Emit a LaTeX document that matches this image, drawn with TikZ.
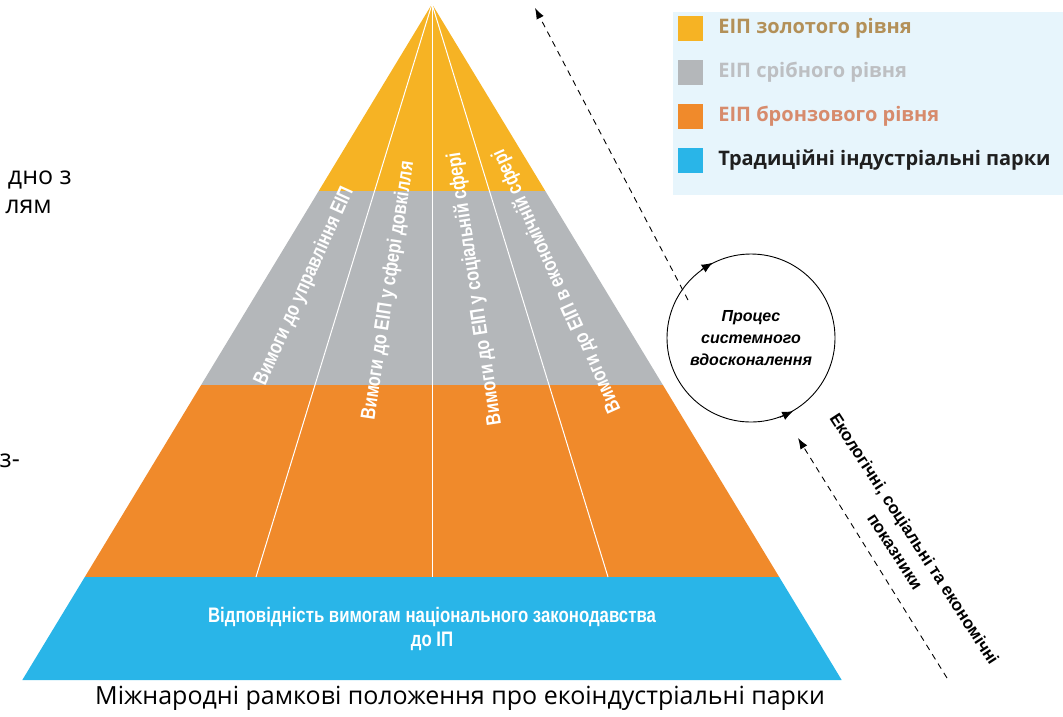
\documentclass[tikz,border=0pt]{standalone}
\usepackage{fontspec}
\setmainfont{Open Sans}
\newfontfamily\arialfont{Liberation Sans}
\newfontfamily\narrowfont[FakeStretch=0.8]{Liberation Sans}
\usetikzlibrary{arrows.meta,calc,positioning}

\definecolor{goldfill}{HTML}{F6B324}
\definecolor{silverfill}{HTML}{B4B7BA}
\definecolor{bronzefill}{HTML}{F08A2B}
\definecolor{parkfill}{HTML}{29B5E8}
\definecolor{legendbg}{HTML}{E7F5FC}
\definecolor{goldtext}{HTML}{B39058}
\definecolor{silvertext}{HTML}{BDBFC2}
\definecolor{bronzetext}{HTML}{D78B6C}

\begin{document}
\begin{tikzpicture}[x=1pt,y=-1pt,
    req/.style={text=white,font=\narrowfont\bfseries\fontsize{20.5}{24}\selectfont},
    legbox/.style={minimum size=25pt,inner sep=0pt},
    legtext/.style={anchor=west,inner sep=0pt,font=\bfseries\fontsize{20}{24}\selectfont},
    flow/.style={dashed,dash pattern=on 6pt off 5pt,line width=0.9pt,-{Latex[length=11pt,width=8pt]}},
    cyc/.style={-{Latex[length=11pt,width=9pt]},line width=0.9pt}]
\useasboundingbox (0,0) rectangle (1063,716);

% pyramid
\coordinate (apex) at (432,4);
\fill[goldfill] (apex) -- (545.3,191) -- (318.7,191) -- cycle;
\fill[silverfill] (318.7,191) -- (545.3,191) -- (662.9,385) -- (201.1,385) -- cycle;
\fill[bronzefill] (201.1,385) -- (662.9,385) -- (779.2,577) -- (84.8,577) -- cycle;
\fill[parkfill] (84.8,577) -- (779.2,577) -- (841.7,680) -- (22.3,680) -- cycle;
\foreach \x in {256,432,608}
    \draw[white,line width=1pt] (apex) -- (\x,577);
\foreach \a/\d/\t [count=\i] in {65.7/310/{Вимоги до управління ЕІП},
        81.4/290/{Вимоги до ЕІП у сфері довкілля},
        98.6/288/{Вимоги до ЕІП у соціальній сфері},
        114.3/304/{Вимоги до ЕІП в економічній сфері}}
    \node[req,rotate=\a] (req\i) at ($(apex)+({-\d*cos(\a)},{\d*sin(\a)})$) {\t};
\node[req,align=center,font=\narrowfont\bfseries\fontsize{21}{24}\selectfont] (base) at (432,629)
    {Відповідність вимогам національного законодавства\\до ІП};

% legend
\fill[legendbg] (673,12) rectangle (1063,195);
\foreach \c/\tc/\t/\y in {goldfill/goldtext/{ЕІП золотого рівня}/28,
        silverfill/silvertext/{ЕІП срібного рівня}/72,
        bronzefill/bronzetext/{ЕІП бронзового рівня}/116,
        parkfill/black!88/{Традиційні індустріальні парки}/160}
{
    \node[legbox,fill=\c] (box-\c) at (690.5,\y) {};
    \node[legtext,text=\tc,right=15pt of box-\c] (leg-\c) {\t};
}

% improvement cycle
\node[draw,circle,line width=0.9pt,minimum size=168pt,align=center,
    font=\arialfont\bfseries\itshape\fontsize{16}{22}\selectfont] (cycle) at (751,338)
    {Процес\\системного\\вдосконалення};
\draw[cyc] (cycle.126) -- (cycle.117);
\draw[cyc] (cycle.-70) -- (cycle.-60);

\coordinate (top-end) at (535,8);
\coordinate (top-start) at (688,300);
\draw[flow] (top-start) -- (top-end);
\coordinate (low-start) at (947,678);
\coordinate (low-end) at (798,438);
\draw[flow] (low-start) -- (low-end);
\node[rotate=-57,align=center,font=\arialfont\bfseries\fontsize{17}{23}\selectfont] (indicators)
    at (905,545) {Екологічні, соціальні та економічні\\показники};

% cut-off text on the left
\node[anchor=base east,inner sep=0pt,font=\fontsize{25}{30}\selectfont] (cut1) at (72,184) {дно з};
\node[anchor=base east,inner sep=0pt,font=\fontsize{25}{30}\selectfont] (cut2) at (52,213) {лям};
\node[anchor=base east,inner sep=0pt,font=\fontsize{25}{30}\selectfont] (cut3) at (20,467) {з-};

% caption
\node[font=\fontsize{25}{30}\selectfont] (caption) at (460,698)
    {Міжнародні рамкові положення про екоіндустріальні парки};
\end{tikzpicture}
\end{document}
